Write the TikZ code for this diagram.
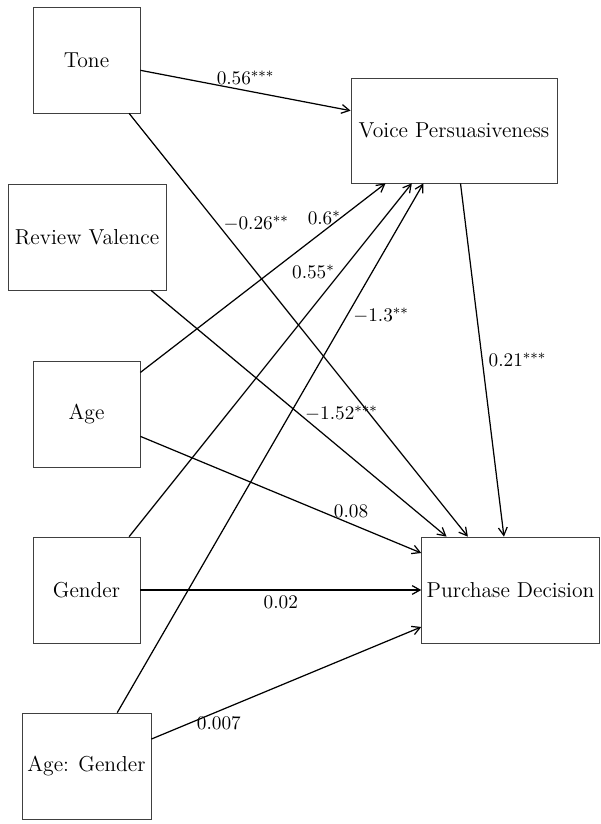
\documentclass[tikz,border=0pt]{standalone}
\usepackage{tikz}
\usetikzlibrary{arrows.meta}

\tikzset{
  var/.style={draw=black!75, minimum width=2.14cm, minimum height=2.12cm, inner xsep=0.1cm, font=\fontsize{12.3}{15}\selectfont},
  link/.style={-{Straight Barb[length=4.5pt, width=5pt]}, line width=0.7pt},
  coef/.style={font=\fontsize{11}{13}\selectfont},
}

\begin{document}
\begin{tikzpicture}[scale=1]
        \useasboundingbox (0,0) rectangle (12,16.48);
        % predictors
        \node[var] (tone) at (1.73,15.28) {Tone};
        \node[var, minimum width=3.16cm] (valence) at (1.74,11.74) {Review Valence};
        \node[var] (age) at (1.73,8.2) {Age};
        \node[var] (gender) at (1.73,4.68) {Gender};
        \node[var, minimum width=2.58cm] (agegender) at (1.73,1.16) {Age: Gender};
        % mediator and outcome
        \node[var, minimum width=4.12cm, minimum height=2.1cm] (voice) at (9.08,13.87) {Voice Persuasiveness};
        \node[var, minimum width=3.54cm] (decision) at (10.21,4.68) {Purchase Decision};
        % paths
        \draw[link] (tone) -- node[coef, above] {$0.56^{***}$} (voice);
        \draw[link] (tone) -- node[coef, pos=0.26, right] {$-0.26^{**}$} (decision);
        \draw[link] (valence) -- node[coef, right] {$-1.52^{***}$} (decision);
        \draw[link] (age) -- node[coef, pos=0.75, above] {$0.6^{*}$} (voice);
        \draw[link] (age) -- node[coef, pos=0.75, above] {$0.08$} (decision);
        \draw[link] (gender) -- node[coef, pos=0.75, left] {$0.55^{*}$} (voice);
        \draw[link] (gender) -- node[coef, below] {$0.02$} (decision);
        \draw[link] (agegender) -- node[coef, pos=0.75, right] {$-1.3^{**}$} (voice);
        \draw[link] (agegender) -- node[coef, pos=0.25, below] {$0.007$} (decision);
        \draw[link] (voice) -- node[coef, right] {$0.21^{***}$} (decision);
\end{tikzpicture}
\end{document}
